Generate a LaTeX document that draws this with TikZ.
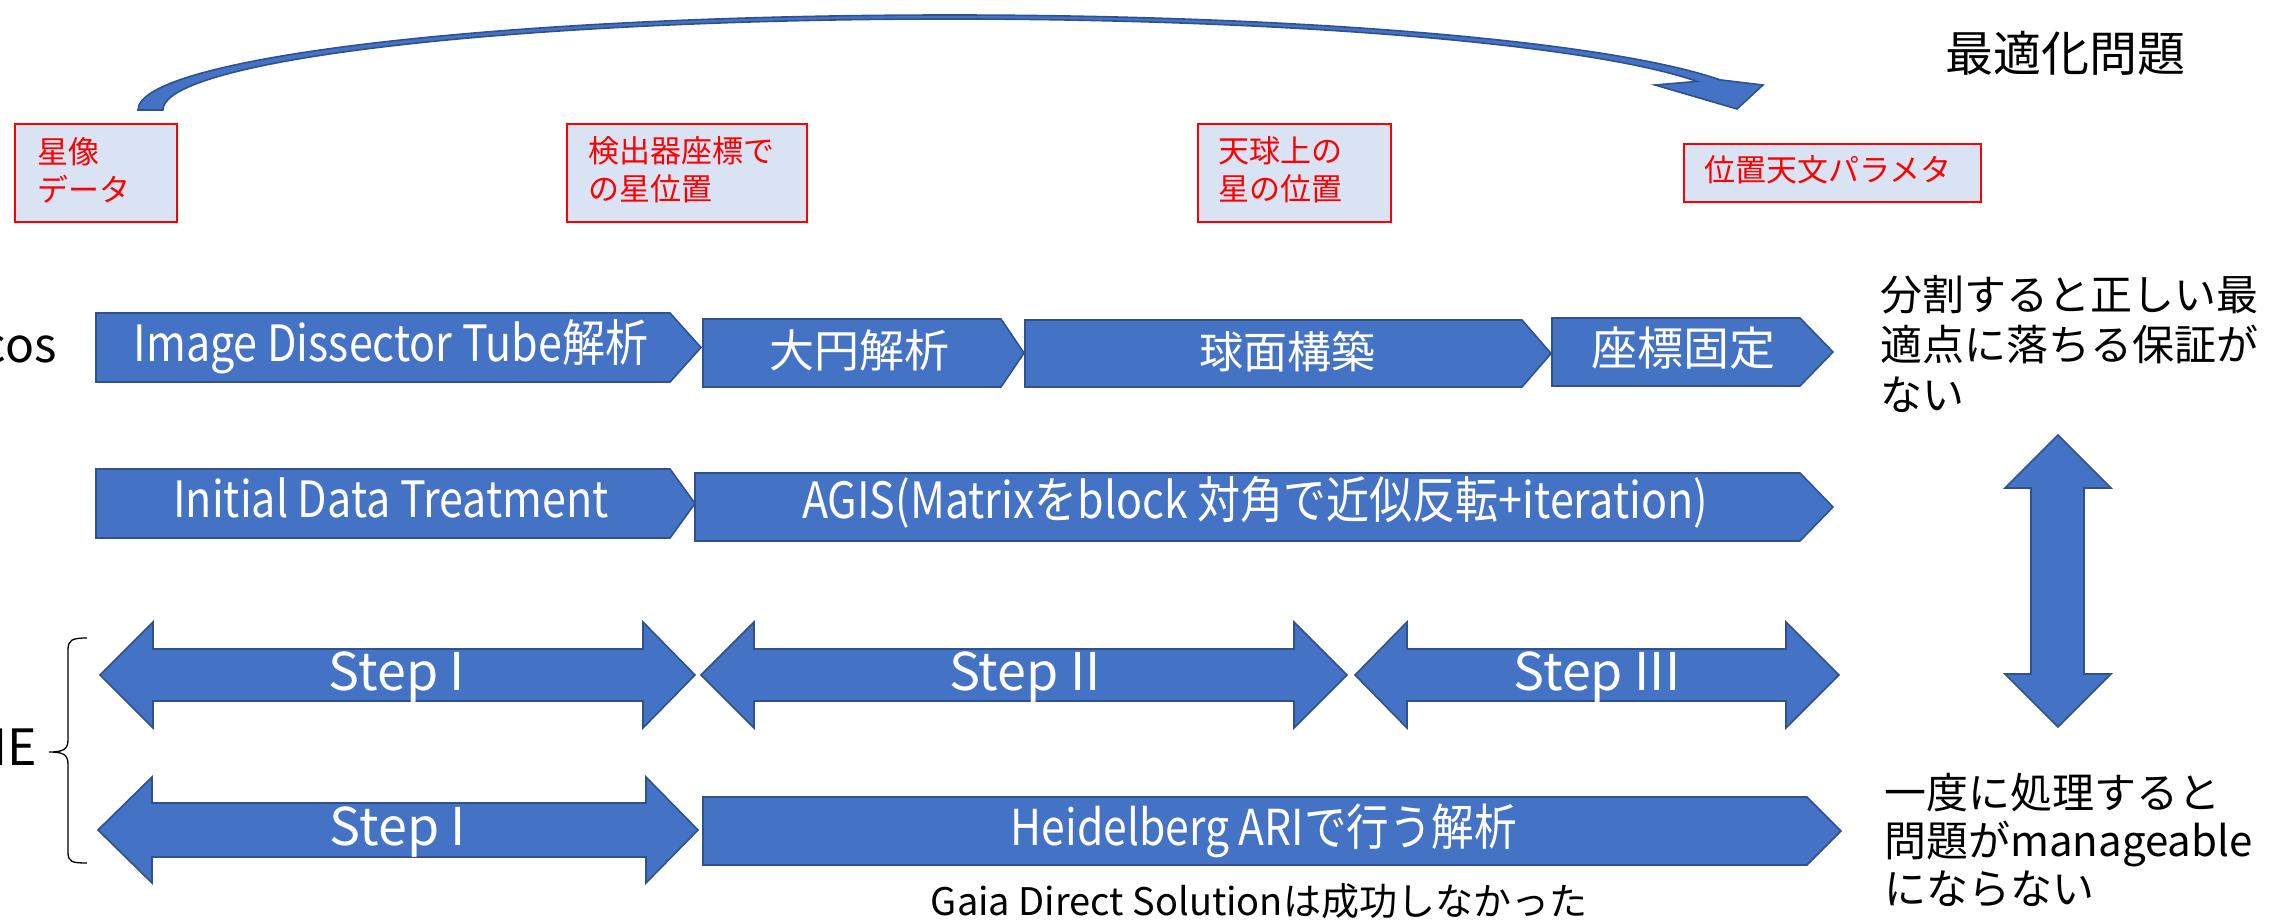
\documentclass[tikz,border=0pt]{standalone}
\usepackage{fontspec}
\setmainfont{Noto Sans CJK JP}
\newfontfamily\condfont{Noto Sans CJK JP}[FakeStretch=0.86]
\definecolor{pblue}{HTML}{4472C4}
\definecolor{pedge}{HTML}{2F528F}
\definecolor{plabel}{HTML}{DAE3F3}
\begin{document}
\begin{tikzpicture}[x=1pt,y=-1pt,
  blk/.style={fill=pblue,draw=pedge,line width=1.6pt,line join=miter},
  lbl/.style={fill=plabel,draw=red,line width=2pt},
  wt/.style={text=white,inner sep=0pt,anchor=base},
  bk/.style={text=black,inner sep=0pt},
  redt/.style={text=red,inner sep=0pt,anchor=west,align=left,font=\fontsize{31}{38}\selectfont},
  fs/.style={font=\fontsize{#1}{#1}\selectfont},
  cfs/.style={font=\condfont\fontsize{#1}{#1}\selectfont}]
\useasboundingbox (0,0) rectangle (2279,923);

% top curved arrow
\path[blk] (138,110) arc[start angle=180,end angle=341.5,x radius=812,y radius=95]
  -- (1763,85) -- (1737,109) -- (1655,85) -- (1697,81.4)
  arc[start angle=341.68,end angle=180,x radius=787,y radius=91] -- cycle;

% label boxes
\path[lbl] (15,124) rectangle (177,222);
\node[redt] (l1) at (37,170) {星像\\データ};
\path[lbl] (567,124) rectangle (807,222);
\node[redt] (l2) at (588,170) {検出器座標で\\の星位置};
\path[lbl] (1198,124) rectangle (1391,222);
\node[redt] (l3) at (1218,170) {天球上の\\星の位置};
\path[lbl] (1684,144) rectangle (1981,202);
\node[redt] (l4) at (1704,170) {位置天文パラメタ};

\node[bk,fs=48,anchor=base] (opt) at (2065,72) {最適化問題};

% row 1
\path[blk] (96,313) -- (670,313) -- (701,347.5) -- (670,382) -- (96,382) -- cycle;
\node[wt,cfs=50] (a1) at (391,361) {Image Dissector Tube解析};
\path[blk] (703,319) -- (1001,319) -- (1024,353) -- (1001,387) -- (703,387) -- cycle;
\node[wt,fs=45] (a2) at (859,367) {大円解析};
\path[blk] (1025,320) -- (1522,320) -- (1551,353.5) -- (1522,387) -- (1025,387) -- cycle;
\node[wt,fs=44] (a3) at (1287,368) {球面構築};
\path[blk] (1552,318) -- (1800,318) -- (1833,352) -- (1800,386) -- (1552,386) -- cycle;
\node[wt,fs=46] (a4) at (1683,365) {座標固定};

% row 2
\path[blk] (96,469) -- (670,469) -- (695,503.5) -- (670,538) -- (96,538) -- cycle;
\node[wt,cfs=50] (b1) at (391,517) {Initial Data Treatment};
\path[blk] (695,473) -- (1800,473) -- (1833,507) -- (1800,541) -- (695,541) -- cycle;
\node[wt,cfs=50] (b2) at (1255,518) {AGIS(Matrixをblock 対角で近似反転+iteration)};

% row 3
\path[blk] (100,675) -- (153,622) -- (153,649) -- (643,649) -- (643,622) -- (695,675)
  -- (643,728) -- (643,701) -- (153,701) -- (153,728) -- cycle;
\node[wt,fs=52] (c1) at (397,690) {Step I};
\path[blk] (701,675) -- (754,622) -- (754,649) -- (1294,649) -- (1294,622) -- (1347,675)
  -- (1294,728) -- (1294,701) -- (754,701) -- (754,728) -- cycle;
\node[wt,fs=52] (c2) at (1025,690) {Step II};
\path[blk] (1355,675) -- (1407,622) -- (1407,649) -- (1786,649) -- (1786,622) -- (1839,675)
  -- (1786,728) -- (1786,701) -- (1407,701) -- (1407,728) -- cycle;
\node[wt,fs=52] (c3) at (1597,690) {Step III};

% row 4
\path[blk] (98,830) -- (152,777) -- (152,803) -- (646,803) -- (646,777) -- (698,830)
  -- (646,883) -- (646,857) -- (152,857) -- (152,883) -- cycle;
\node[wt,fs=52] (d1) at (398,845) {Step I};
\path[blk] (703,797) -- (1807,797) -- (1841,831) -- (1807,865) -- (703,865) -- cycle;
\node[wt,cfs=49.5] (d2) at (1264,845) {Heidelberg ARIで行う解析};

\node[bk,fs=38,anchor=base] (gaia) at (1259,915) {Gaia Direct Solutionは成功しなかった};

% vertical double arrow
\path[blk] (2058,435) -- (2111,488) -- (2084,488) -- (2084,674) -- (2111,674) -- (2058,727)
  -- (2005,674) -- (2031,674) -- (2031,488) -- (2005,488) -- cycle;

% right texts
\node[bk,anchor=west,align=left,font=\fontsize{42}{50}\selectfont] (r1) at (1880,344)
  {分割すると正しい最\\適点に落ちる保証が\\ない};
\node[bk,anchor=west,align=left,font=\fontsize{42}{48}\selectfont] (r2) at (1884,840)
  {一度に処理すると\\問題がmanageable\\にならない};

% left labels (cut off by the left edge, as in the reference)
\node[bk,fs=48,anchor=base east] (hip) at (57,362) {Hipparcos};
\node[bk,fs=50,anchor=base east] (jas) at (37,765) {JASMINE};
\draw[line width=1.3pt] (87,638) .. controls (72,638) and (68,640) .. (68,650) -- (68,740)
  .. controls (68,750) and (62,752) .. (49,752) .. controls (62,752) and (68,754) .. (68,764)
  -- (68,852) .. controls (68,862) and (72,863) .. (87,863);
\end{tikzpicture}
\end{document}
